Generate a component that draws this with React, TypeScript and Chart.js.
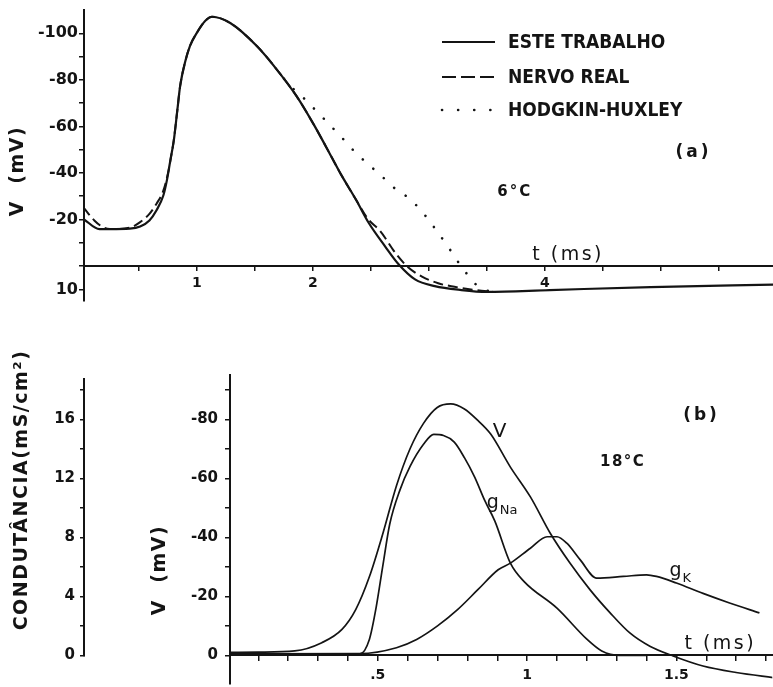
import React, { useEffect, useRef } from "react";
import { Chart, registerables } from "chart.js";
Chart.register(...registerables);

const INK = "#141414";
const FONT = "'DejaVu Sans', 'Liberation Sans', sans-serif";
const NARROW = "'DejaVu Sans Condensed', 'DejaVu Sans', sans-serif";

// ---------------- Panel (a): 6 °C ----------------
const aThisWorkT = [0.02, 0.16, 0.25, 0.42, 0.51, 0.59, 0.65, 0.71, 0.74, 0.77, 0.8, 0.83, 0.855, 0.9, 0.94, 1.0, 1.07, 1.13, 1.29, 1.52, 1.69, 1.86, 2.0, 2.11, 2.24, 2.37, 2.48, 2.62, 2.74, 2.88, 3.05, 3.28, 3.5, 4.04, 4.91, 5.97];
const aThisWorkV = [-20.3, -15.9, -15.9, -16.1, -17, -19.6, -23.9, -30.3, -36.7, -45.3, -53.9, -66.7, -77.4, -88.1, -94.6, -100.3, -105.3, -107.1, -104.3, -94.3, -84.3, -72.9, -61.4, -51.5, -39.5, -28.6, -18.6, -8.6, -0.7, 5.7, 8.6, 10.3, 11.1, 10.3, 9.0, 8.0];

const aNerveT = [0.02, 0.115, 0.19, 0.25, 0.42, 0.51, 0.59, 0.65, 0.71, 0.755, 0.78, 0.8, 0.83, 0.855, 0.9, 0.94, 1.0, 1.07, 1.13, 1.29, 1.52, 1.69, 1.86, 2.0, 2.11, 2.24, 2.37, 2.47, 2.58, 2.72, 2.82, 2.94, 3.08, 3.22, 3.4, 3.55];
const aNerveV = [-25.3, -19.6, -16.7, -15.9, -16.5, -18.9, -22.4, -26.7, -32.4, -41, -48, -54, -66.7, -77.4, -88.1, -94.6, -100.3, -105.3, -107.1, -104.3, -94.3, -84.3, -72.9, -61.4, -51.5, -39.5, -28.6, -20.5, -15, -5, 0.5, 4.5, 7.4, 8.9, 10.3, 11.0];

const aHHT = [1.75, 1.815, 1.915, 2.0, 2.08, 2.165, 2.26, 2.36, 2.47, 2.585, 2.69, 2.815, 2.92, 3.02, 3.17, 3.24, 3.32, 3.41, 3.5, 3.62];
const aHHV = [-80.5, -76.9, -72.4, -68.1, -64, -59.6, -54.6, -49.1, -44, -39, -34, -29.6, -24.6, -18.3, -7.9, -2.6, 2.9, 8.1, 10.5, 11.3];

const aLabels = ["ESTE TRABALHO", "NERVO REAL", "HODGKIN-HUXLEY"];
const aXTickLabels = [1, 2, 4];
const aYTickLabels = [-100, -80, -60, -40, -20, 10];

// ---------------- Panel (b): 18 °C ----------------
const bVT = [0, 0.1, 0.222, 0.3125, 0.38, 0.426, 0.472, 0.517, 0.5625, 0.608, 0.653, 0.699, 0.744, 0.79, 0.835, 0.878, 0.944, 1.011, 1.078, 1.144, 1.211, 1.278, 1.344, 1.411, 1.489, 1.589, 1.7, 1.83];
const bVV = [-1.0, -1.1, -1.5, -4.3, -8.8, -15.5, -26.7, -41.3, -57.5, -70, -78.6, -84, -85.2, -83.5, -79.6, -75, -63.8, -53.7, -41.3, -31.2, -22.2, -14.4, -7.6, -3.1, 0.2, 3.6, 5.8, 7.6];

const bGNaT = [0, 0.44, 0.472, 0.494, 0.517, 0.54, 0.574, 0.608, 0.653, 0.6875, 0.72, 0.756, 0.79, 0.824, 0.858, 0.892, 0.944, 0.99, 1.1, 1.2, 1.25, 1.31, 1.4];
const bGNaG = [0.1, 0.1, 1.1, 3.2, 6.1, 8.9, 11.2, 12.8, 14.3, 14.97, 14.9, 14.45, 13.4, 12.1, 10.5, 9.1, 6.25, 5.0, 3.2, 1.1, 0.3, 0.0, 0.0];

const bGKT = [0, 0.44, 0.5625, 0.63, 0.7, 0.767, 0.835, 0.903, 0.944, 1.011, 1.067, 1.1, 1.133, 1.178, 1.233, 1.322, 1.4, 1.433, 1.5, 1.589, 1.678, 1.778];
const bGKG = [0.1, 0.12, 0.52, 1.08, 2.0, 3.1, 4.45, 5.8, 6.25, 7.26, 8.04, 8.04, 7.6, 6.47, 5.24, 5.35, 5.46, 5.35, 4.9, 4.2, 3.55, 2.88];

const bXTickValues = [0.5, 1, 1.5];
const bXTickText = [".5", "1", "1.5"];
const bVTickLabels = [-80, -60, -40, -20, 0];
const bGTickLabels = [0, 4, 8, 12, 16];

const toXY = (xs: number[], ys: number[]) => xs.map((x, i) => ({ x, y: ys[i] }));
const near = (a: number, b: number) => Math.abs(a - b) < 1e-6;

type Note = { text: string; x: number; y: number; font: string; spacing?: number; sub?: string; subFont?: string };

function notesPlugin(id: string, yAxis: string, notes: Note[]) {
  return {
    id,
    afterDatasetsDraw(chart: any) {
      const ctx = chart.ctx;
      const xs = chart.scales.x;
      const ys = chart.scales[yAxis];
      notes.forEach((n) => {
        const px = xs.getPixelForValue(n.x);
        const py = ys.getPixelForValue(n.y);
        ctx.save();
        ctx.fillStyle = INK;
        ctx.textAlign = "center";
        ctx.textBaseline = "middle";
        ctx.font = n.font;
        (ctx as any).letterSpacing = (n.spacing || 0) + "px";
        ctx.fillText(n.text, px, py);
        if (n.sub) {
          const w = ctx.measureText(n.text).width;
          ctx.font = n.subFont || n.font;
          (ctx as any).letterSpacing = "0px";
          ctx.textAlign = "left";
          ctx.fillText(n.sub, px + w / 2 + 1, py + 7);
        }
        ctx.restore();
      });
    },
  };
}

type VTitle = { text: string; x: number; y: number; font: string; spacing: number };
function vTitlesPlugin(id: string, titles: VTitle[]) {
  return {
    id,
    afterDraw(chart: any) {
      const ctx = chart.ctx;
      titles.forEach((t) => {
        ctx.save();
        ctx.translate(t.x, t.y);
        ctx.rotate(-Math.PI / 2);
        ctx.font = t.font;
        (ctx as any).letterSpacing = t.spacing + "px";
        ctx.fillStyle = INK;
        ctx.textAlign = "center";
        ctx.textBaseline = "middle";
        ctx.fillText(t.text, 0, 0);
        ctx.restore();
      });
    },
  };
}

const LEGEND = { x0: 442, x1: 495, textX: 508, rows: [52, 87, 120] };
const innerLegend = {
  id: "innerLegend",
  afterDraw(chart: any) {
    const ctx = chart.ctx;
    chart.data.datasets.forEach((ds: any, i: number) => {
      const y = LEGEND.rows[i];
      ctx.save();
      ctx.strokeStyle = INK;
      ctx.lineWidth = ds.borderWidth;
      ctx.setLineDash(ds.legendDash || ds.borderDash || []);
      ctx.lineCap = ds.borderCapStyle || "butt";
      ctx.beginPath();
      ctx.moveTo(LEGEND.x0, y);
      ctx.lineTo(LEGEND.x1, y);
      ctx.stroke();
      ctx.setLineDash([]);
      ctx.font = `bold 19px ${NARROW}`;
      ctx.fillStyle = INK;
      ctx.textAlign = "left";
      ctx.textBaseline = "middle";
      ctx.fillText(ds.label, LEGEND.textX, y + 1);
      ctx.restore();
    });
  },
};

const gAxisLine = {
  id: "gAxisLine",
  afterDraw(chart: any) {
    const s = chart.scales.yG;
    const ctx = chart.ctx;
    ctx.save();
    ctx.strokeStyle = INK;
    ctx.lineWidth = 2;
    ctx.beginPath();
    ctx.moveTo(s.right - 1, s.getPixelForValue(0) + 1);
    ctx.lineTo(s.right - 1, s.getPixelForValue(18.8));
    ctx.stroke();
    ctx.restore();
  },
};

const tickFont = (size: number) => ({ family: FONT, size, weight: "bold" as const });
const gridCfg = (len: number) => ({ drawOnChartArea: false, tickLength: len, color: INK, lineWidth: 1.5 });

export default function App() {
  const refA = useRef<HTMLCanvasElement | null>(null);
  const refB = useRef<HTMLCanvasElement | null>(null);

  useEffect(() => {
    Chart.defaults.font.family = FONT;
    const chartA = new Chart(refA.current as HTMLCanvasElement, {
      type: "line",
      data: {
        datasets: [
          { label: aLabels[0], data: toXY(aThisWorkT, aThisWorkV), borderColor: INK, borderWidth: 2.2, pointRadius: 0, cubicInterpolationMode: "monotone", fill: false },
          { label: aLabels[1], data: toXY(aNerveT, aNerveV), borderColor: INK, borderWidth: 2, borderDash: [10, 5], legendDash: [14, 5], pointRadius: 0, cubicInterpolationMode: "monotone", fill: false } as any,
          { label: aLabels[2], data: toXY(aHHT, aHHV), borderColor: INK, borderWidth: 2.6, borderDash: [0.1, 14], legendDash: [0.1, 16], borderCapStyle: "round", pointRadius: 0, cubicInterpolationMode: "monotone", fill: false } as any,
        ],
      },
      options: {
        animation: false,
        responsive: false,
        events: [],
        layout: { padding: { left: 0, right: 0, top: 20, bottom: 20 } },
        plugins: { legend: { display: false }, tooltip: { enabled: false } },
        scales: {
          x: {
            type: "linear",
            min: 0.026,
            max: 5.966,
            position: { y: 0 } as any,
            ticks: {
              stepSize: 0.5,
              includeBounds: false,
              autoSkip: false,
              maxRotation: 0,
              padding: 5,
              color: INK,
              font: tickFont(14),
              callback: (v: any) => (aXTickLabels.some((l) => near(l, v)) ? String(v) : ""),
            },
            afterBuildTicks: (s: any) => {
              s.ticks = s.ticks.filter((t: any) => t.value > 0.4 && t.value < 5.9 && near(t.value * 2, Math.round(t.value * 2)));
            },
            grid: gridCfg(4),
            border: { color: INK, width: 2 },
          },
          y: {
            type: "linear",
            reverse: true,
            min: -110,
            max: 15,
            position: "left",
            afterFit: (s: any) => {
              s.width = 84;
            },
            ticks: {
              stepSize: 10,
              includeBounds: false,
              autoSkip: false,
              padding: 1,
              color: INK,
              font: tickFont(16),
              callback: (v: any) => (aYTickLabels.some((l) => near(l, v)) ? String(v) : ""),
            },
            afterBuildTicks: (s: any) => {
              s.ticks = s.ticks.filter((t: any) => t.value >= -100 && t.value <= 10 && near(t.value / 10, Math.round(t.value / 10)));
            },
            grid: gridCfg(5),
            border: { color: INK, width: 2 },
          },
        },
      },
      plugins: [
        innerLegend,
        notesPlugin("notesA", "y", [
          { text: "(a)", x: 5.28, y: -48.9, font: `bold 17px ${FONT}`, spacing: 3 },
          { text: "6°C", x: 3.74, y: -31.8, font: `bold 15px ${FONT}`, spacing: 2 },
          { text: "t (ms)", x: 4.2, y: -4.7, font: `19px ${FONT}`, spacing: 2.5 },
        ]),
        vTitlesPlugin("titlesA", [{ text: "V  (mV)", x: 18, y: 181, font: `bold 19px ${FONT}`, spacing: 1.5 }]),
      ] as any,
    } as any);

    const chartB = new Chart(refB.current as HTMLCanvasElement, {
      type: "line",
      data: {
        datasets: [
          { label: "V", data: toXY(bVT, bVV), yAxisID: "yV", borderColor: INK, borderWidth: 1.7, pointRadius: 0, cubicInterpolationMode: "monotone", fill: false },
          { label: "gNa", data: toXY(bGNaT, bGNaG), yAxisID: "yG", borderColor: INK, borderWidth: 1.7, pointRadius: 0, cubicInterpolationMode: "monotone", fill: false },
          { label: "gK", data: toXY(bGKT, bGKG), yAxisID: "yG", borderColor: INK, borderWidth: 1.7, pointRadius: 0, cubicInterpolationMode: "monotone", fill: false },
        ],
      },
      options: {
        animation: false,
        responsive: false,
        events: [],
        layout: { padding: { left: 0, right: 0, top: 70, bottom: 20 } },
        plugins: { legend: { display: false }, tooltip: { enabled: false } },
        scales: {
          x: {
            type: "linear",
            min: 0.005,
            max: 1.821,
            position: { yV: 0 } as any,
            ticks: {
              stepSize: 0.1,
              includeBounds: false,
              autoSkip: false,
              maxRotation: 0,
              padding: 7,
              color: INK,
              font: tickFont(14),
              callback: (v: any) => {
                const i = bXTickValues.findIndex((l) => near(l, v));
                return i >= 0 ? bXTickText[i] : "";
              },
            },
            afterBuildTicks: (s: any) => {
              s.ticks = s.ticks.filter((t: any) => t.value > 0.05 && t.value < 1.815 && near(t.value * 10, Math.round(t.value * 10)));
            },
            grid: gridCfg(5),
            border: { color: INK, width: 2 },
          },
          yV: {
            type: "linear",
            reverse: true,
            min: -95,
            max: 9.7,
            position: "left",
            weight: 0,
            afterFit: (s: any) => {
              s.width = 145;
            },
            ticks: {
              stepSize: 10,
              includeBounds: false,
              autoSkip: false,
              padding: 7,
              color: INK,
              font: tickFont(15),
              callback: (v: any) => (bVTickLabels.some((l) => near(l, v)) ? String(v) : ""),
            },
            afterBuildTicks: (s: any) => {
              s.ticks = s.ticks.filter((t: any) => t.value >= -90 && t.value <= 0 && near(t.value / 10, Math.round(t.value / 10)));
            },
            grid: gridCfg(5),
            border: { color: INK, width: 2 },
          },
          yG: {
            type: "linear",
            min: -1.94,
            max: 19,
            position: "left",
            weight: 1,
            afterFit: (s: any) => {
              s.width = 85;
            },
            ticks: {
              stepSize: 2,
              includeBounds: false,
              autoSkip: false,
              padding: 5,
              color: INK,
              font: tickFont(15),
              callback: (v: any) => (bGTickLabels.some((l) => near(l, v)) ? String(v) : ""),
            },
            afterBuildTicks: (s: any) => {
              s.ticks = s.ticks.filter((t: any) => t.value >= 0 && t.value <= 18.01 && near(t.value / 2, Math.round(t.value / 2)));
            },
            grid: gridCfg(5),
            border: { display: false },
          },
        },
      },
      plugins: [
        gAxisLine,
        notesPlugin("notesB", "yV", [
          { text: "(b)", x: 1.584, y: -81.4, font: `bold 17px ${FONT}`, spacing: 3 },
          { text: "18°C", x: 1.32, y: -65.4, font: `bold 15px ${FONT}`, spacing: 1.5 },
          { text: "t (ms)", x: 1.647, y: -4, font: `19px ${FONT}`, spacing: 2.5 },
          { text: "V", x: 0.908, y: -75.6, font: `20px ${FONT}` },
          { text: "g", x: 0.885, y: -51.5, font: `19px ${FONT}`, sub: "Na", subFont: `13px ${FONT}` },
          { text: "g", x: 1.497, y: -28.5, font: `19px ${FONT}`, sub: "K", subFont: `13px ${FONT}` },
        ]),
        vTitlesPlugin("titlesB", [
          { text: "CONDUTÂNCIA(mS/cm²)", x: 22, y: 185, font: `bold 19px ${FONT}`, spacing: 1.5 },
          { text: "V  (mV)", x: 160, y: 265, font: `bold 19px ${FONT}`, spacing: 1.5 },
        ]),
      ] as any,
    } as any);

    return () => {
      chartA.destroy();
      chartB.destroy();
    };
  }, []);

  return (
    <div style={{ position: "absolute", left: 0, top: 0, width: 773, height: 687, overflow: "hidden", background: "#fff" }}>
      <canvas ref={refA} width={773} height={331} style={{ position: "absolute", left: 0, top: -10, display: "block" }} />
      <canvas ref={refB} width={773} height={399} style={{ position: "absolute", left: 0, top: 305, display: "block" }} />
    </div>
  );
}
